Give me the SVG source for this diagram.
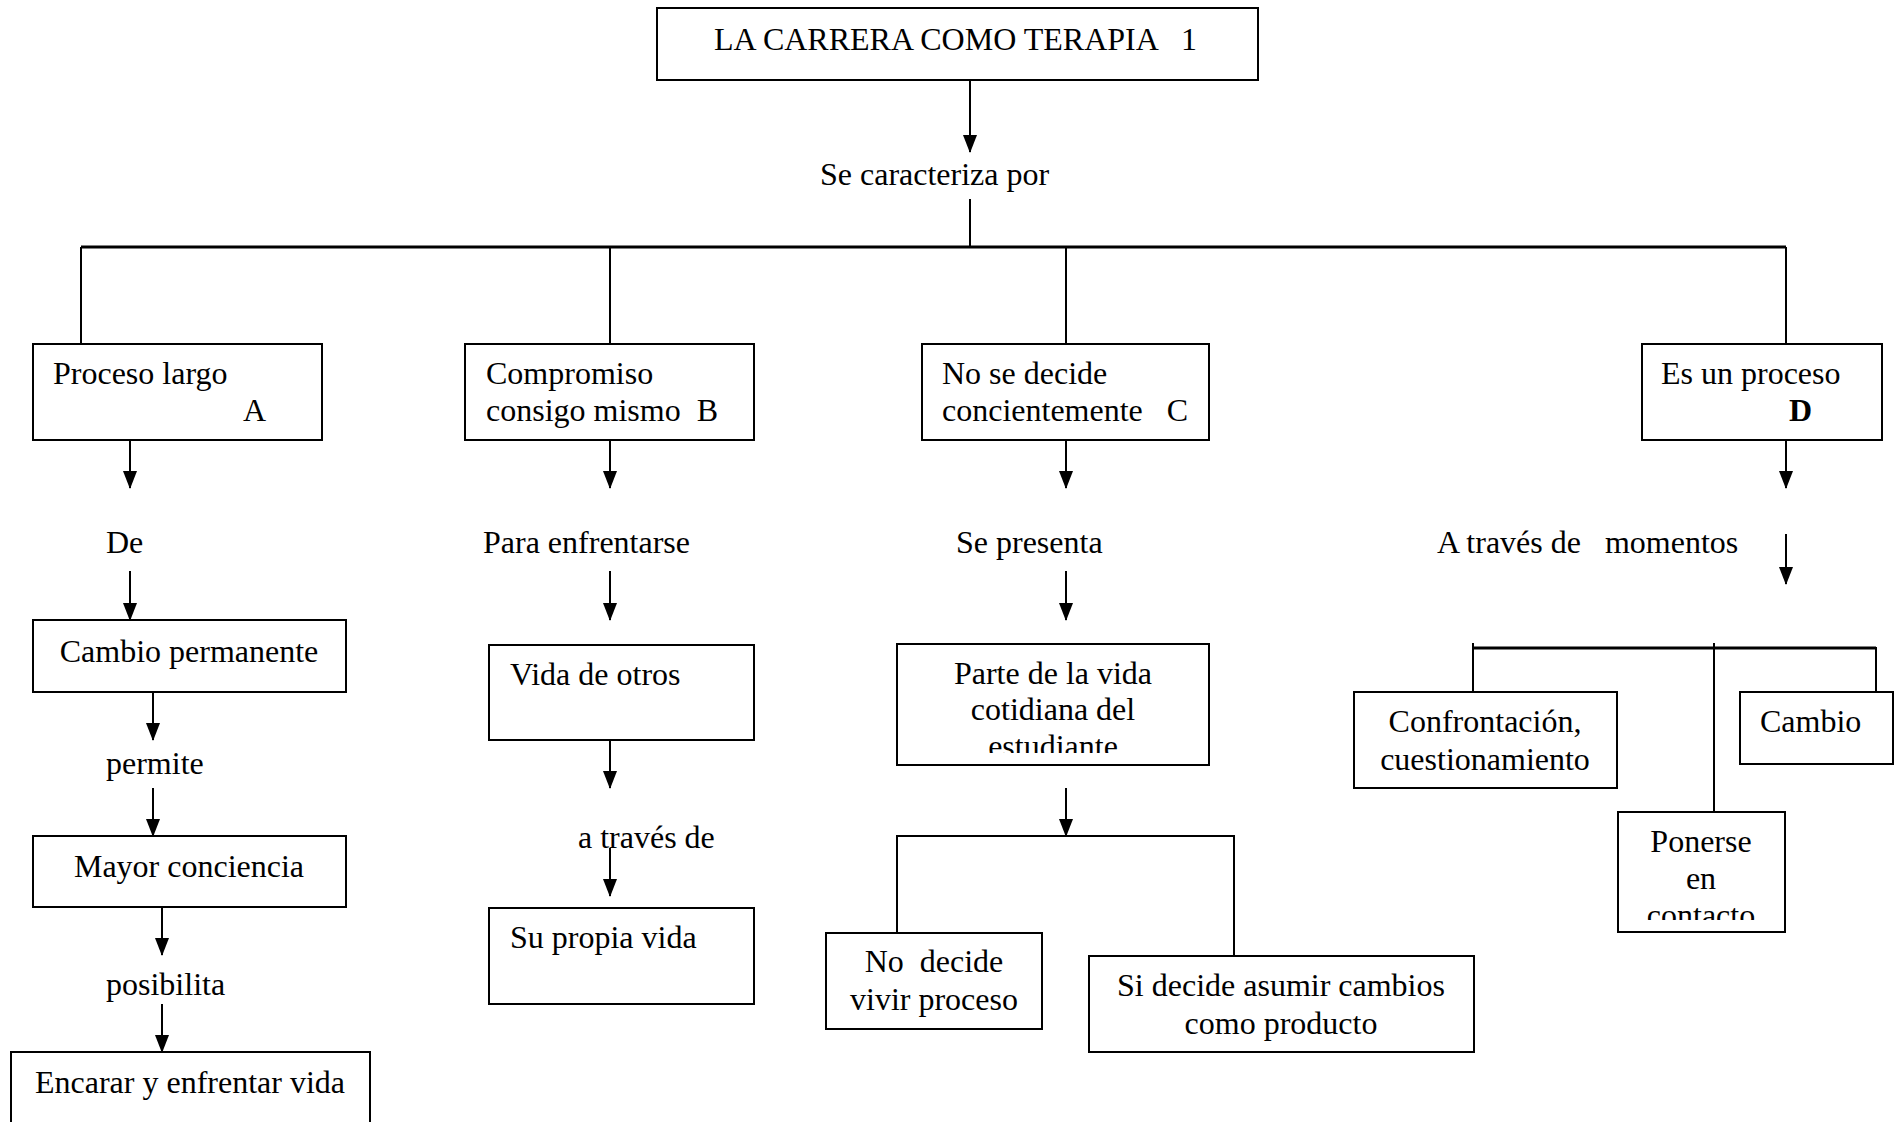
<svg xmlns="http://www.w3.org/2000/svg" width="1904" height="1122" viewBox="0 0 1904 1122">
<style>
.box{fill:#fff;stroke:#000;stroke-width:2}
.t{font-family:"Liberation Serif","Times New Roman",serif;font-size:32px;fill:#000}
.c{text-anchor:middle}
.ln{stroke:#000;stroke-width:2;fill:none}
.thick{stroke:#000;stroke-width:3;fill:none}
</style>
<defs>
<marker id="arr" markerUnits="userSpaceOnUse" markerWidth="18" markerHeight="14" refX="17" refY="7" orient="auto" viewBox="0 0 18 14">
<path d="M0,0 L18,7 L0,14 Z" fill="#000"/>
</marker>
<clipPath id="clipParte"><rect x="898" y="645" width="310" height="108"/></clipPath>
<clipPath id="clipPonerse"><rect x="1618" y="813" width="166" height="107"/></clipPath>
</defs>

<g id="connectors">
<line class="ln" x1="970" y1="80" x2="970" y2="152" marker-end="url(#arr)"/>
<line class="ln" x1="970" y1="199" x2="970" y2="247"/>
<line class="thick" x1="81" y1="247" x2="1786" y2="247"/>
<line class="ln" x1="81" y1="247" x2="81" y2="344"/>
<line class="ln" x1="610" y1="247" x2="610" y2="344"/>
<line class="ln" x1="1066" y1="247" x2="1066" y2="344"/>
<line class="ln" x1="1786" y1="247" x2="1786" y2="344"/>

<line class="ln" x1="130" y1="440" x2="130" y2="488" marker-end="url(#arr)"/>
<line class="ln" x1="130" y1="571" x2="130" y2="620" marker-end="url(#arr)"/>
<line class="ln" x1="153" y1="692" x2="153" y2="740" marker-end="url(#arr)"/>
<line class="ln" x1="153" y1="788" x2="153" y2="836" marker-end="url(#arr)"/>
<line class="ln" x1="162" y1="907" x2="162" y2="955" marker-end="url(#arr)"/>
<line class="ln" x1="162" y1="1004" x2="162" y2="1052" marker-end="url(#arr)"/>

<line class="ln" x1="610" y1="440" x2="610" y2="488" marker-end="url(#arr)"/>
<line class="ln" x1="610" y1="571" x2="610" y2="620" marker-end="url(#arr)"/>
<line class="ln" x1="610" y1="740" x2="610" y2="788" marker-end="url(#arr)"/>
<line class="ln" x1="610" y1="848" x2="610" y2="896" marker-end="url(#arr)"/>

<line class="ln" x1="1066" y1="440" x2="1066" y2="488" marker-end="url(#arr)"/>
<line class="ln" x1="1066" y1="571" x2="1066" y2="620" marker-end="url(#arr)"/>
<line class="ln" x1="1066" y1="788" x2="1066" y2="836" marker-end="url(#arr)"/>
<polyline class="ln" points="897,933 897,836 1234,836 1234,956"/>

<line class="ln" x1="1786" y1="440" x2="1786" y2="488" marker-end="url(#arr)"/>
<line class="ln" x1="1786" y1="534" x2="1786" y2="584" marker-end="url(#arr)"/>
<line class="thick" x1="1473" y1="648" x2="1876" y2="648"/>
<line class="ln" x1="1473" y1="643" x2="1473" y2="692"/>
<line class="ln" x1="1714" y1="643" x2="1714" y2="812"/>
<line class="ln" x1="1876" y1="647" x2="1876" y2="697"/>
</g>

<g id="n_title">
<rect class="box" x="657" y="8" width="601" height="72"/>
<text class="t" x="714" y="50" xml:space="preserve">LA CARRERA COMO TERAPIA   1</text>
</g>
<g id="l_caracteriza"><text class="t" x="820" y="185">Se caracteriza por</text></g>

<g id="n_A">
<rect class="box" x="33" y="344" width="289" height="96"/>
<text class="t" x="53" y="384">Proceso largo</text>
<text class="t" x="243" y="421">A</text>
</g>
<g id="l_de"><text class="t" x="106" y="553">De</text></g>
<g id="n_cambioperm">
<rect class="box" x="33" y="620" width="313" height="72"/>
<text class="t c" x="189" y="662">Cambio permanente</text>
</g>
<g id="l_permite"><text class="t" x="106" y="774">permite</text></g>
<g id="n_mayor">
<rect class="box" x="33" y="836" width="313" height="71"/>
<text class="t c" x="189" y="877">Mayor conciencia</text>
</g>
<g id="l_posibilita"><text class="t" x="106" y="995">posibilita</text></g>
<g id="n_encarar">
<rect class="box" x="11" y="1052" width="359" height="80"/>
<text class="t c" x="190" y="1093">Encarar y enfrentar vida</text>
</g>

<g id="n_B">
<rect class="box" x="465" y="344" width="289" height="96"/>
<text class="t" x="486" y="384">Compromiso</text>
<text class="t" x="486" y="421" xml:space="preserve">consigo mismo  B</text>
</g>
<g id="l_para"><text class="t" x="483" y="553">Para enfrentarse</text></g>
<g id="n_vidaotros">
<rect class="box" x="489" y="645" width="265" height="95"/>
<text class="t" x="510" y="685">Vida de otros</text>
</g>
<g id="l_atraves"><text class="t" x="578" y="848">a través de</text></g>
<g id="n_supropia">
<rect class="box" x="489" y="908" width="265" height="96"/>
<text class="t" x="510" y="948">Su propia vida</text>
</g>

<g id="n_C">
<rect class="box" x="922" y="344" width="287" height="96"/>
<text class="t" x="942" y="384">No se decide</text>
<text class="t" x="942" y="421" xml:space="preserve">concientemente   C</text>
</g>
<g id="l_sepresenta"><text class="t" x="956" y="553">Se presenta</text></g>
<g id="n_parte">
<rect class="box" x="897" y="644" width="312" height="121"/>
<g clip-path="url(#clipParte)">
<text class="t c" x="1053" y="684">Parte de la vida</text>
<text class="t c" x="1053" y="720">cotidiana del</text>
<text class="t c" x="1053" y="757">estudiante</text>
</g>
</g>
<g id="n_nodecide">
<rect class="box" x="826" y="933" width="216" height="96"/>
<text class="t c" x="934" y="972" xml:space="preserve">No  decide</text>
<text class="t c" x="934" y="1010">vivir proceso</text>
</g>
<g id="n_sidecide">
<rect class="box" x="1089" y="956" width="385" height="96"/>
<text class="t c" x="1281" y="996">Si decide asumir cambios</text>
<text class="t c" x="1281" y="1034">como producto</text>
</g>

<g id="n_D">
<rect class="box" x="1642" y="344" width="240" height="96"/>
<text class="t" x="1661" y="384">Es un proceso</text>
<text class="t" x="1789" y="421" font-weight="bold">D</text>
</g>
<g id="l_momentos"><text class="t" x="1437" y="553" xml:space="preserve">A través de   momentos</text></g>
<g id="n_confrontacion">
<rect class="box" x="1354" y="692" width="263" height="96"/>
<text class="t c" x="1485" y="732">Confrontación,</text>
<text class="t c" x="1485" y="770">cuestionamiento</text>
</g>
<g id="n_cambio">
<rect class="box" x="1740" y="692" width="153" height="72"/>
<text class="t" x="1760" y="732">Cambio</text>
</g>
<g id="n_ponerse">
<rect class="box" x="1618" y="812" width="167" height="120"/>
<g clip-path="url(#clipPonerse)">
<text class="t c" x="1701" y="852">Ponerse</text>
<text class="t c" x="1701" y="889">en</text>
<text class="t c" x="1701" y="926">contacto</text>
</g>
</g>
</svg>
